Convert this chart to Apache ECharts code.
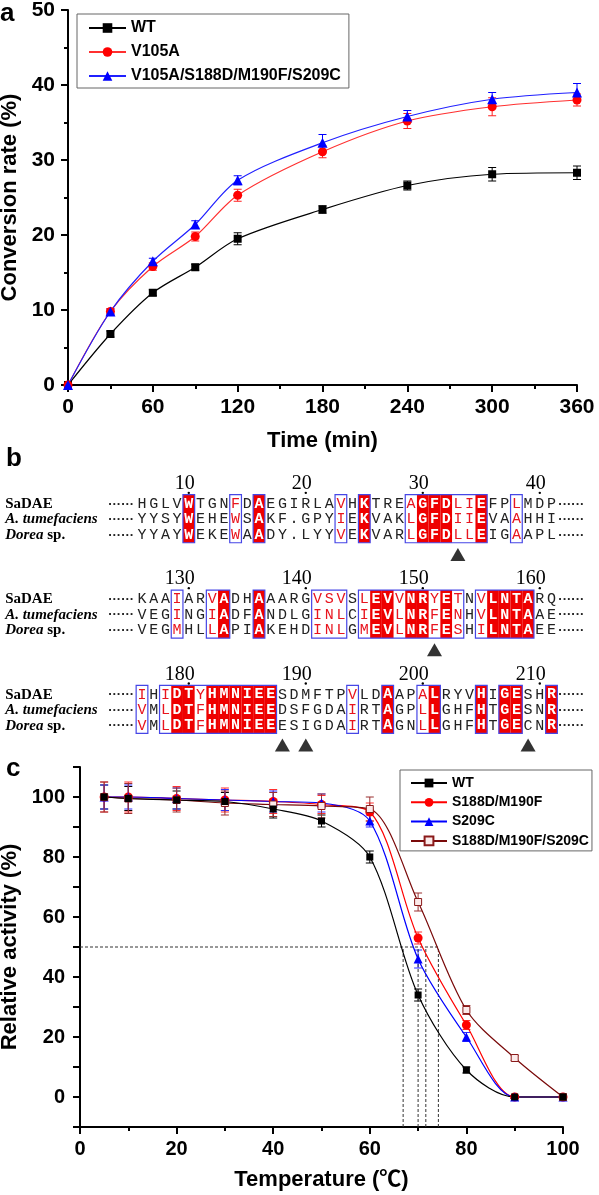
<!DOCTYPE html>
<html><head><meta charset="utf-8">
<script src="https://cdn.jsdelivr.net/npm/echarts/dist/echarts.min.js"></script>
<style>html,body{margin:0;padding:0;background:#fff}#c{width:599px;height:1195px}</style>
</head><body><div id="c"></div>
<script>
// ---------- Panel a : conversion rate vs time ----------
const timeMin = [0, 30, 60, 90, 120, 180, 240, 300, 360];
const convWT = [0, 6.8, 12.3, 15.7, 19.5, 23.4, 26.6, 28.1, 28.3];
const convWTErr = [0.2, 0.4, 0.4, 0.4, 0.8, 0.5, 0.6, 0.9, 0.9];
const convV105A = [0, 9.8, 15.8, 19.8, 25.3, 31.1, 35.2, 37.1, 38.0];
const convV105AErr = [0.2, 0.4, 0.5, 0.6, 0.8, 0.8, 1.0, 1.2, 0.8];
const convQuad = [0, 9.8, 16.5, 21.4, 27.3, 32.3, 35.8, 38.1, 39.0];
const convQuadErr = [0.2, 0.3, 0.4, 0.5, 0.6, 1.1, 0.8, 0.9, 1.2];
const namesA = ['WT', 'V105A', 'V105A/S188D/M190F/S209C'];

// ---------- Panel b : sequence alignment ----------
const seqNames = ['SaDAE', 'A. tumefaciens', 'Dorea sp.'];
const seqBlocks = [
  ['HGLVWTGNFDAEGIRLAVHKTREAGFDLIEFPLMDP', 'YYSYWEHEWSAKF.GPYIEKVAKLGFDIIEVAAHHI', 'YYAYWEKEWAADY.LYYVEKVARLGFDLLEIGAAPL'],
  ['KAAIARVADHAAARGVSVSLEVVNRYETNVLNTARQ', 'VEGINGIADFANDLGINLCIEVLNRFENHVLNTAAE', 'VEGMHLLAPIAKEHDINLGMEVLNRFESHILNTAEE'],
  ['IHIDTYHMNIEESDMFTPVLDAAPALRYVHIGESHR', 'VMLDTFHMNIEEDSFGDAIRTAGPLLGHFHTGESNR', 'VMLDTFHMNIEEESIGDAIRTAGNLLGHFHTGECNR']
];
const rulerNumbers = [[10, 20, 30, 40], [130, 140, 150, 160], [180, 190, 200, 210]];
const rulerCols = [4, 14, 24, 34];
const simBoxes = [
  [[4, 4], [8, 8], [10, 10], [17, 17], [19, 19], [23, 29], [32, 32]],
  [[3, 3], [6, 7], [10, 10], [15, 17], [19, 27], [29, 33]],
  [[0, 0], [2, 11], [18, 18], [21, 21], [24, 25], [29, 29], [31, 32], [35, 35]]
];
const identCols = [
  [4, 10, 19, 24, 25, 26, 29],
  [7, 10, 20, 21, 23, 24, 26, 30, 31, 32, 33],
  [3, 4, 6, 7, 8, 9, 10, 11, 21, 25, 29, 31, 32, 35]
];
const arrowCols = [[27], [25], [12, 14, 33]];

// ---------- Panel c : thermostability ----------
const tempC = [5, 10, 20, 30, 40, 50, 60, 70, 80, 90, 100];
const actWT = [100, 99.5, 99, 98.5, 96, 92, 80, 34, 9, 0, 0];
const actWTErr = [4, 4, 3, 3, 3, 2, 2, 2, 1, 0.5, 0];
const actDM = [100, 100, 99.5, 99, 98.5, 97.5, 95, 53, 24, 0, 0];
const actDMErr = [5, 5, 4, 4, 4, 3, 3, 2, 1.5, 0.5, 0];
const actS209C = [100, 100, 99.5, 99, 98.5, 98, 92, 46, 20, 0, 0];
const actS209CErr = [4, 4, 3.5, 3.5, 3.5, 3, 2, 3, 1.5, 0.5, 0];
const actTri = [100, 99.5, 99, 98, 97.5, 97, 96, 65, 29, 13, 0];
const actTriErr = [5, 5, 4, 4, 4, 4, 4, 3, 1.5, 0.8, 0];
const halfTemps = [66.9, 70.0, 71.6, 74.2];
const namesC = ['WT', 'S188D/M190F', 'S209C', 'S188D/M190F/S209C'];

// ---------- helpers ----------
const SANS = '"Liberation Sans", Arial, sans-serif';
const SERIF = '"Liberation Serif", "Times New Roman", serif';
const MONO = '"Liberation Mono", "Courier New", monospace';
const STRIDE = 6.15;
const pairs = (xs, ys) => xs.map((x, i) => [x, ys[i]]);
const triples = (xs, ys, es) => xs.map((x, i) => [x, ys[i], es[i]]);

function errSeries(xi, yi, data, color, cap) {
  return {
    type: 'custom', xAxisIndex: xi, yAxisIndex: yi, data, z: 1, silent: true, clip: false,
    encode: { x: 0, y: 1 },
    renderItem(params, api) {
      const x = api.value(0), y = api.value(1), e = api.value(2);
      if (!e) return null;
      const t = api.coord([x, y + e]), b = api.coord([x, y - e]);
      const st = { stroke: color, lineWidth: 1 };
      return { type: 'group', children: [
        { type: 'line', shape: { x1: t[0], y1: t[1], x2: b[0], y2: b[1] }, style: st },
        { type: 'line', shape: { x1: t[0] - cap, y1: t[1], x2: t[0] + cap, y2: t[1] }, style: st },
        { type: 'line', shape: { x1: b[0] - cap, y1: b[1], x2: b[0] + cap, y2: b[1] }, style: st }
      ] };
    }
  };
}
function lineSeries(xi, yi, name, data, color, lineColor, symbol, size, fill) {
  return {
    type: 'line', name, xAxisIndex: xi, yAxisIndex: yi, data, smooth: 0.3, z: 3,
    symbol, symbolSize: size, showSymbol: true,
    lineStyle: { color: lineColor, width: 1.2 },
    itemStyle: { color: fill || color, borderColor: color, borderWidth: fill ? 1 : 0 },
    emphasis: { disabled: true }
  };
}

// alignment cells
const cells = [];
seqBlocks.forEach((blk, b) => blk.forEach((seq, r) => {
  for (let c = 0; c < seq.length; c++) cells.push({ b, r, c, ch: seq[c] });
}));
function cellKind(b, c) {
  if (identCols[b].includes(c)) return 2;
  if (simBoxes[b].some(([s, e]) => c >= s && c <= e)) return 1;
  return 0;
}
const fillData = [];
identCols.forEach((cols, b) => cols.forEach(c => fillData.push([c, b * STRIDE, c])));
const boxData = [];
simBoxes.forEach((bx, b) => bx.forEach(([s, e]) => boxData.push([s, b * STRIDE, e])));
const arrowData = [];
arrowCols.forEach((cols, b) => cols.forEach(c => arrowData.push([c, b * STRIDE + 3.25])));
const rulerData = [];
rulerNumbers.forEach((nums, b) => nums.forEach((n, k) => rulerData.push([rulerCols[k], b * STRIDE - 1.3, n])));
const rowData = [];
seqBlocks.forEach((blk, b) => blk.forEach((s, r) => rowData.push([0, b * STRIDE + r, r])));
const rowLabelRich = [
  '{b|' + seqNames[0] + '}',
  '{i|' + seqNames[1] + '}',
  '{i|' + seqNames[2].split(' ')[0] + '}{b| ' + seqNames[2].split(' ')[1] + '}'
];

function rectBetween(api, x0, y0, x1, y1) {
  const p0 = api.coord([x0, y0]), p1 = api.coord([x1, y1]);
  return { x: Math.min(p0[0], p1[0]), y: Math.min(p0[1], p1[1]), width: Math.abs(p1[0] - p0[0]), height: Math.abs(p1[1] - p0[1]) };
}

const axisBlack = { show: true, onZero: false, lineStyle: { color: '#000', width: 2 } };
const tickBlack = { show: true, length: 7, lineStyle: { color: '#000', width: 2 } };
const minorBlack = { show: true, splitNumber: 2, length: 4, lineStyle: { color: '#000', width: 2 } };
const lblBold = (size, margin) => ({ fontSize: size, fontWeight: 'bold', color: '#000', fontFamily: SANS, margin });
const nameBold = { fontSize: 22, fontWeight: 'bold', color: '#000', fontFamily: SANS + ', "Noto Sans CJK SC"' };

const chart = echarts.init(document.getElementById('c'), null, { renderer: 'canvas' });
chart.setOption({
  animation: false,
  backgroundColor: '#fff',
  grid: [
    { left: 68, top: 10, width: 509, height: 375, containLabel: false, outerBoundsMode: 'none' },
    { left: 136.15, top: 473, width: 421.2, height: 286.75, containLabel: false, outerBoundsMode: 'none' },
    { left: 80, top: 767, width: 483, height: 360, containLabel: false, outerBoundsMode: 'none' }
  ],
  xAxis: [
    { gridIndex: 0, type: 'value', min: 0, max: 360, interval: 60, axisLine: axisBlack, axisTick: tickBlack,
      minorTick: minorBlack, splitLine: { show: false }, axisLabel: lblBold(21, 12),
      name: 'Time (min)', nameLocation: 'middle', nameGap: 45, nameTextStyle: nameBold },
    { gridIndex: 1, type: 'value', min: -0.5, max: 35.5, show: false },
    { gridIndex: 2, type: 'value', min: 0, max: 100, interval: 20, axisLine: axisBlack, axisTick: tickBlack,
      minorTick: minorBlack, splitLine: { show: false }, axisLabel: lblBold(20, 12),
      name: 'Temperature (℃)', nameLocation: 'middle', nameGap: 42, nameTextStyle: nameBold }
  ],
  yAxis: [
    { gridIndex: 0, type: 'value', min: 0, max: 50, interval: 10, axisLine: axisBlack, axisTick: tickBlack,
      minorTick: minorBlack, splitLine: { show: false }, axisLabel: lblBold(21, 13),
      name: 'Conversion rate (%)', nameLocation: 'middle', nameGap: 42, nameTextStyle: nameBold },
    { gridIndex: 1, type: 'value', min: -2, max: 16.5, inverse: true, show: false },
    { gridIndex: 2, type: 'value', min: -10, max: 110, interval: 10, axisLine: axisBlack, axisTick: tickBlack,
      splitLine: { show: false },
      axisLabel: Object.assign(lblBold(20, 15), { formatter: v => (v >= 0 && v <= 100 && v % 20 === 0) ? String(v) : '' }),
      name: 'Relative activity (%)', nameLocation: 'middle', nameGap: 50, nameTextStyle: nameBold }
  ],
  legend: [
    { data: namesA, left: 77, top: 14, orient: 'vertical', selectedMode: false,
      backgroundColor: '#fff', borderColor: '#666', borderWidth: 1, borderRadius: 0, padding: [6, 8, 4, 11],
      itemWidth: 37, itemHeight: 12, itemGap: 8,
      textStyle: { fontFamily: SANS, fontWeight: 'bold', fontSize: 16, color: '#000' } },
    { data: namesC, left: 400, top: 770, orient: 'vertical', selectedMode: false,
      backgroundColor: '#fff', borderColor: '#666', borderWidth: 1, borderRadius: 0, padding: [6, 3, 3, 10],
      itemWidth: 36, itemHeight: 11, itemGap: 5.3,
      textStyle: { fontFamily: SANS, fontWeight: 'bold', fontSize: 14, color: '#000' } }
  ],
  graphic: [
    { type: 'text', left: 0, top: 1, style: { text: 'a', font: 'bold 26px ' + SANS, fill: '#000' } },
    { type: 'text', left: 6, top: 446, style: { text: 'b', font: 'bold 26px ' + SANS, fill: '#000' } },
    { type: 'text', left: 6, top: 756, style: { text: 'c', font: 'bold 26px ' + SANS, fill: '#000' } }
  ],
  series: [
    // ---- a ----
    errSeries(0, 0, triples(timeMin, convWT, convWTErr), '#000', 4),
    errSeries(0, 0, triples(timeMin, convV105A, convV105AErr), '#ff2020', 4),
    errSeries(0, 0, triples(timeMin, convQuad, convQuadErr), '#0000ff', 4),
    lineSeries(0, 0, namesA[0], pairs(timeMin, convWT), '#000', '#000', 'rect', 8),
    lineSeries(0, 0, namesA[1], pairs(timeMin, convV105A), '#ff0000', '#ff3030', 'circle', 9),
    lineSeries(0, 0, namesA[2], pairs(timeMin, convQuad), '#0000ff', '#2020ff', 'triangle', 10),
    // ---- b ----
    { type: 'custom', xAxisIndex: 1, yAxisIndex: 1, data: fillData, encode: { x: [0, 2], y: 1 }, silent: true, z: 1,
      renderItem(params, api) {
        const s = api.value(0), y = api.value(1), e = api.value(2);
        return { type: 'rect', shape: rectBetween(api, s - 0.5, y - 0.6, e + 0.5, y + 2.5), style: { fill: '#ee0000' } };
      } },
    { type: 'custom', xAxisIndex: 1, yAxisIndex: 1, data: boxData, encode: { x: [0, 2], y: 1 }, silent: true, z: 2,
      renderItem(params, api) {
        const s = api.value(0), y = api.value(1), e = api.value(2);
        return { type: 'rect', shape: rectBetween(api, s - 0.5, y - 0.6, e + 0.5, y + 2.5), style: { fill: null, stroke: '#4646e6', lineWidth: 1.2 } };
      } },
    { type: 'custom', xAxisIndex: 1, yAxisIndex: 1, data: cells.map(o => [o.c, o.b * STRIDE + o.r]), encode: { x: 0, y: 1 }, silent: true, z: 3,
      renderItem(params, api) {
        const o = cells[params.dataIndex];
        const p = api.coord([api.value(0), api.value(1)]);
        const k = cellKind(o.b, o.c);
        return { type: 'text', style: { text: o.ch, x: p[0], y: p[1], align: 'center', verticalAlign: 'middle',
          fill: k === 2 ? '#fff' : (k === 1 ? '#e8141e' : '#222'),
          font: (k === 2 ? 'bold ' : '') + '15px ' + MONO } };
      } },
    { type: 'custom', xAxisIndex: 1, yAxisIndex: 1, data: rowData, encode: { x: 0, y: 1 }, silent: true, z: 3,
      renderItem(params, api) {
        const y = api.value(1), r = api.value(2);
        const pl = api.coord([-0.5, y]), pr = api.coord([35.5, y]);
        const f = 'bold 13px ' + SANS;
        return { type: 'group', children: [
          { type: 'text', style: { text: rowLabelRich[r], x: pl[0] - 131, y: pl[1], align: 'left', verticalAlign: 'middle',
            rich: {
              b: { fontFamily: SERIF, fontWeight: 'bold', fontSize: 15, fill: '#000' },
              i: { fontFamily: SERIF, fontWeight: 'bold', fontStyle: 'italic', fontSize: 15, fill: '#000' }
            } } },
          { type: 'text', style: { text: '······', x: pl[0] - 2, y: pl[1], align: 'right', verticalAlign: 'middle', fill: '#222', font: f } },
          { type: 'text', style: { text: '······', x: pr[0] + 1, y: pr[1], align: 'left', verticalAlign: 'middle', fill: '#222', font: f } }
        ] };
      } },
    { type: 'custom', xAxisIndex: 1, yAxisIndex: 1, data: rulerData, encode: { x: 0, y: 1 }, silent: true, z: 3,
      renderItem(params, api) {
        const c = api.value(0), y = api.value(1), n = api.value(2);
        const p = api.coord([c, y]), d = api.coord([c, y + 0.58]);
        return { type: 'group', children: [
          { type: 'text', style: { text: String(n), x: p[0] + 6, y: p[1], align: 'right', verticalAlign: 'middle', fill: '#000', font: '20px ' + SERIF } },
          { type: 'circle', shape: { cx: d[0], cy: d[1], r: 1.2 }, style: { fill: '#000' } }
        ] };
      } },
    { type: 'scatter', xAxisIndex: 1, yAxisIndex: 1, data: arrowData, symbol: 'triangle', symbolSize: [15, 13],
      itemStyle: { color: '#000' }, silent: true, z: 3 },
    // ---- c ----
    { type: 'line', xAxisIndex: 2, yAxisIndex: 2, data: [[0, 50], [halfTemps[halfTemps.length - 1], 50]], symbol: 'none', silent: true, z: 1,
      lineStyle: { color: '#333', width: 1, type: [3, 2] } },
    ...halfTemps.map(t => ({ type: 'line', xAxisIndex: 2, yAxisIndex: 2, data: [[t, -10], [t, 50]], symbol: 'none', silent: true, z: 1,
      lineStyle: { color: '#333', width: 1, type: [3, 2] } })),
    errSeries(2, 2, triples(tempC, actWT, actWTErr), '#000', 4),
    errSeries(2, 2, triples(tempC, actDM, actDMErr), '#ff3030', 4),
    errSeries(2, 2, triples(tempC, actS209C, actS209CErr), '#3030ff', 4),
    errSeries(2, 2, triples(tempC, actTri, actTriErr), '#9a3030', 4),
    lineSeries(2, 2, namesC[1], pairs(tempC, actDM), '#ff0000', '#ff0000', 'circle', 9),
    lineSeries(2, 2, namesC[2], pairs(tempC, actS209C), '#0000ff', '#0000ff', 'triangle', 9),
    lineSeries(2, 2, namesC[3], pairs(tempC, actTri), '#8a1a1a', '#7a0a0a', 'rect', 7, '#fbeaea'),
    lineSeries(2, 2, namesC[0], pairs(tempC, actWT), '#000', '#000', 'rect', 7)
  ]
});
</script>
</body></html>
